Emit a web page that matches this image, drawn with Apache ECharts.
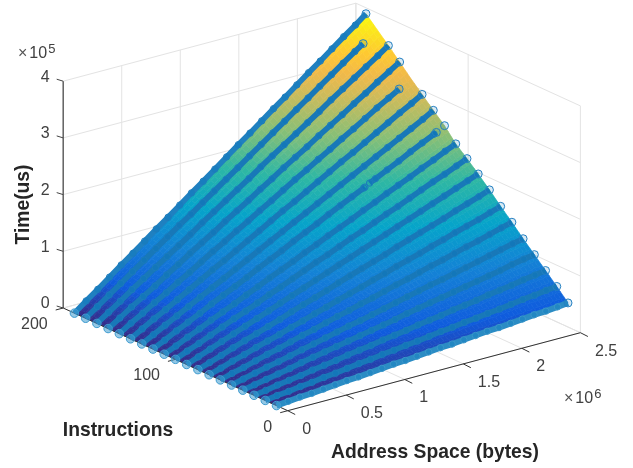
<!DOCTYPE html>
<html><head><meta charset="utf-8">
<style>html,body{margin:0;padding:0;background:#fff}#c{width:633px;height:468px;filter:blur(0.45px)}</style>
<script src="https://cdn.jsdelivr.net/npm/echarts@6/dist/echarts.min.js"></script>
</head><body><div id="c"></div>
<script>
// ---- data (address in 1e6 bytes, time in 1e5 us) ----
const addressTicks = [0, 0.5, 1, 1.5, 2, 2.5];
const addressTickLabels = ['0', '0.5', '1', '1.5', '2', '2.5'];
const instructionTicks = [0, 100, 200];
const instructionTickLabels = ['0', '100', '200'];
const timeTicks = [0, 1, 2, 3, 4];
const timeTickLabels = ['0', '1', '2', '3', '4'];
const instructionLines = [10,20,30,40,50,60,70,80,90,100,110,120,130,140,150,160,170,180,190];
const addressSamples = [0,.1,.2,.3,.4,.5,.6,.7,.8,.9,1,1.1,1.2,1.3,1.4,1.5,1.6,1.7,1.8,1.9,2,2.1,2.2,2.3,2.4,2.49];
const time10  = [0,.02,.04,.05,.07,.09,.11,.12,.14,.16,.18,.19,.21,.23,.25,.26,.28,.30,.32,.33,.35,.37,.39,.40,.42,.44];
const time20  = [0,.03,.05,.08,.10,.13,.15,.18,.21,.23,.26,.28,.31,.33,.36,.39,.41,.44,.46,.49,.51,.54,.57,.59,.62,.64];
const time30  = [0,.03,.07,.10,.13,.17,.20,.23,.27,.30,.33,.37,.40,.43,.47,.50,.53,.57,.60,.63,.67,.70,.73,.77,.80,.83];
const time40  = [0,.04,.08,.12,.16,.21,.25,.29,.33,.37,.41,.45,.49,.53,.58,.62,.66,.70,.74,.78,.82,.86,.90,.95,.99,1.02];
const time50  = [0,.05,.10,.15,.19,.24,.29,.34,.39,.44,.49,.53,.58,.63,.68,.73,.78,.83,.87,.92,.97,1.02,1.07,1.12,1.17,1.21];
const time60  = [0,.06,.11,.17,.23,.28,.34,.40,.45,.51,.57,.62,.68,.73,.79,.85,.90,.96,1.02,1.07,1.13,1.19,1.24,1.30,1.36,1.41];
const time70  = [0,.06,.13,.19,.26,.32,.38,.45,.51,.58,.64,.71,.77,.83,.90,.96,1.03,1.09,1.15,1.22,1.28,1.35,1.41,1.47,1.54,1.60];
const time80  = [0,.07,.14,.22,.29,.36,.43,.50,.58,.65,.72,.79,.87,.94,1.01,1.08,1.15,1.23,1.30,1.37,1.44,1.51,1.59,1.66,1.73,1.80];
const time90  = [0,.08,.16,.24,.32,.40,.48,.56,.64,.72,.80,.88,.96,1.04,1.12,1.20,1.28,1.36,1.44,1.52,1.60,1.68,1.76,1.84,1.92,1.99];
const time100 = [0,.09,.17,.26,.35,.44,.52,.61,.70,.78,.87,.96,1.05,1.13,1.22,1.31,1.39,1.48,1.57,1.65,1.74,1.83,1.92,2.00,2.09,2.17];
const time110 = [0,.09,.19,.28,.38,.47,.56,.66,.75,.85,.94,1.03,1.13,1.22,1.32,1.41,1.50,1.60,1.69,1.79,1.88,1.97,2.07,2.16,2.26,2.34];
const time120 = [0,.10,.21,.31,.41,.52,.62,.72,.82,.93,1.03,1.13,1.24,1.34,1.44,1.55,1.65,1.75,1.85,1.96,2.06,2.16,2.27,2.37,2.47,2.57];
const time130 = [0,.11,.22,.33,.44,.55,.66,.77,.88,.99,1.10,1.21,1.32,1.43,1.54,1.65,1.76,1.87,1.98,2.09,2.20,2.31,2.42,2.53,2.64,2.75];
const time140 = [0,.12,.24,.35,.47,.59,.71,.83,.94,1.06,1.18,1.30,1.42,1.54,1.65,1.77,1.89,2.01,2.13,2.24,2.36,2.48,2.60,2.72,2.83,2.94];
const time150 = [0,.13,.25,.38,.50,.63,.75,.88,1.01,1.13,1.26,1.38,1.51,1.63,1.76,1.89,2.01,2.14,2.26,2.39,2.51,2.64,2.77,2.89,3.02,3.13];
const time160 = [0,.13,.27,.40,.53,.67,.80,.94,1.07,1.20,1.34,1.47,1.60,1.74,1.87,2.01,2.14,2.27,2.41,2.54,2.67,2.81,2.94,3.08,3.21,3.33];
const time170 = [0,.14,.28,.43,.57,.71,.85,.99,1.13,1.28,1.42,1.56,1.70,1.84,1.99,2.13,2.27,2.41,2.55,2.69,2.84,2.98,3.12,3.26,3.40,3.53];
const time180 = [0,.15,.30,.45,.60,.75,.90,1.05,1.20,1.34,1.49,1.64,1.79,1.94,2.09,2.24,2.39,2.54,2.69,2.84,2.99,3.14,3.29,3.44,3.59,3.72];
const time190 = [0,.16,.31,.47,.63,.78,.94,1.10,1.25,1.41,1.57,1.72,1.88,2.04,2.20,2.35,2.51,2.67,2.82,2.98,3.14,3.29,3.45,3.61,3.76,3.91];
const timeRows = [time10,time20,time30,time40,time50,time60,time70,time80,time90,time100,time110,time120,time130,time140,time150,time160,time170,time180,time190];
// runs of markers that stop short of the last sample: instructions -> [address, time] of last marker of the run
const runEnds = {180:[2.37,3.54], 150:[2.39,3.00], 120:[2.42,2.49]};
// a lone marker beyond the run
const loneMarkers = {120:[2.49,2.57]};
// small holes in a run: instructions -> [addrBefore, timeBefore, addrAfter, timeAfter]
const runHoles = {120:[1.81,1.86,1.85,1.91]};

// ---- parula colour scale ----
const parulaPos = [0,.11,.238,.365,.492,.619,.746,.81,.873,1];
const parulaRGB = [[.2081,.1663,.5292],[.0591,.3598,.8683],[.0779,.504,.8384],[.0231,.6418,.7913],[.1801,.7177,.6424],[.53,.7491,.4661],[.8185,.7327,.3498],[.945,.7261,.2886],[.9955,.7861,.1967],[.9763,.9831,.0538]];
const timeMax = 3.91;
function parula(t){
  const v = Math.max(0, Math.min(1, t / timeMax));
  let k = 0; while (k < parulaPos.length - 2 && v > parulaPos[k + 1]) k++;
  const f = (v - parulaPos[k]) / (parulaPos[k + 1] - parulaPos[k]);
  const c = parulaRGB[k].map((u, j) => Math.round(255 * (u + f * (parulaRGB[k + 1][j] - u))));
  return 'rgb(' + c.join(',') + ')';
}

// ---- orthographic view of the MATLAB axes box ----
function project(a, i, t){
  return [287.7 + 117.08 * a - 1.1225 * i, 410.7 - 31.2 * a - 0.5135 * i - 56.7 * t];
}
const fullAddr = addressTicks[addressTicks.length - 1];
const fullInstr = instructionTicks[instructionTicks.length - 1];
const fullTime = timeTicks[timeTicks.length - 1];

// grid segments: [a1,i1,t1,a2,i2,t2]
const gridSegments = [];
timeTicks.forEach(t => {
  gridSegments.push([0, fullInstr, t, fullAddr, fullInstr, t]);
  gridSegments.push([fullAddr, fullInstr, t, fullAddr, 0, t]);
});
addressTicks.forEach(a => {
  gridSegments.push([a, fullInstr, 0, a, fullInstr, fullTime]);
  gridSegments.push([a, 0, 0, a, fullInstr, 0]);
});
instructionTicks.forEach(i => {
  gridSegments.push([fullAddr, i, 0, fullAddr, i, fullTime]);
  gridSegments.push([0, i, 0, fullAddr, i, 0]);
});

// surface cells
const surfaceCells = [];
for (let r = 0; r < instructionLines.length - 1; r++)
  for (let c = 0; c < addressSamples.length - 1; c++) surfaceCells.push([r, c]);

const SUB_I = 3, SUB_A = 3;
function renderSurface(params, api){
  const r = api.value(0), c = api.value(1);
  const i0 = instructionLines[r], i1 = instructionLines[r + 1];
  const a0 = addressSamples[c], a1 = addressSamples[c + 1];
  const t00 = timeRows[r][c], t01 = timeRows[r][c + 1], t10 = timeRows[r + 1][c], t11 = timeRows[r + 1][c + 1];
  const at = (u, v) => {
    const t = (1 - u) * ((1 - v) * t00 + v * t01) + u * ((1 - v) * t10 + v * t11);
    return { t, p: api.coord(project(a0 + v * (a1 - a0), i0 + u * (i1 - i0), t)) };
  };
  const children = [];
  for (let m = 0; m < SUB_I; m++) for (let n = 0; n < SUB_A; n++) {
    const A = at(m / SUB_I, n / SUB_A), B = at(m / SUB_I, (n + 1) / SUB_A),
          C = at((m + 1) / SUB_I, (n + 1) / SUB_A), D = at((m + 1) / SUB_I, n / SUB_A);
    const col = parula((A.t + B.t + C.t + D.t) / 4);
    children.push({ type: 'polygon', shape: { points: [A.p, B.p, C.p, D.p] }, style: { fill: col, stroke: col, lineWidth: 0.7 }, silent: true });
  }
  return { type: 'group', children };
}
function renderSegments(color, width){
  return (params, api) => {
    const p = api.coord(project(api.value(0), api.value(1), api.value(2)));
    const q = api.coord(project(api.value(3), api.value(4), api.value(5)));
    return { type: 'line', shape: { x1: p[0], y1: p[1], x2: q[0], y2: q[1] }, style: { stroke: color, lineWidth: width }, silent: true };
  };
}
// axes: line + outward tick for each axis
const axisData = [];
axisData.push({ from: [0, fullInstr, 0], to: [0, fullInstr, fullTime], color: '#5a5a5a', w: 1.4 });
axisData.push({ from: [0, 0, 0], to: [0, fullInstr, 0], color: '#333', w: 1 });
axisData.push({ from: [0, 0, 0], to: [fullAddr, 0, 0], color: '#333', w: 1 });
timeTicks.forEach(t => axisData.push({ from: [0, fullInstr, t], off: [-6.5, -2], color: '#444', w: 1 }));
instructionTicks.forEach(i => axisData.push({ from: [0, i, 0], off: [-7.5, 2], color: '#333', w: 1 }));
addressTicks.forEach(a => axisData.push({ from: [a, 0, 0], off: [7.5, 3.8], color: '#333', w: 1 }));
function renderAxis(params, api){
  const d = axisData[params.dataIndex];
  const p0 = project(d.from[0], d.from[1], d.from[2]);
  const p1 = d.to ? project(d.to[0], d.to[1], d.to[2]) : [p0[0] + d.off[0], p0[1] + d.off[1]];
  const p = api.coord(p0), q = api.coord(p1);
  return { type: 'line', shape: { x1: p[0], y1: p[1], x2: q[0], y2: q[1] }, style: { stroke: d.color, lineWidth: d.w }, silent: true };
}
// tick labels
const labelData = [];
timeTicks.forEach((t, k) => labelData.push({ at: [0, fullInstr, t], off: [-13.5, -4], text: timeTickLabels[k], align: 'right' }));
instructionTicks.forEach((i, k) => labelData.push({ at: [0, i, 0], off: [-15.5, 16.5], text: instructionTickLabels[k], align: 'right' }));
addressTicks.forEach((a, k) => labelData.push({ at: [a, 0, 0], off: [14.5, 18.5], text: addressTickLabels[k], align: 'left' }));
function renderLabel(params, api){
  const d = labelData[params.dataIndex];
  const p0 = project(d.at[0], d.at[1], d.at[2]);
  const p = api.coord([p0[0] + d.off[0], p0[1] + d.off[1]]);
  return { type: 'text', x: p[0], y: p[1], style: { text: d.text, fontFamily: 'Liberation Sans', fontSize: 16, fill: '#404040', align: d.align, verticalAlign: 'middle' }, silent: true };
}

const series = [
  { type: 'custom', coordinateSystem: 'cartesian2d', renderItem: renderSegments('#e3e3e3', 1), data: gridSegments, z: 1, silent: true, clip: false, animation: false },
  { type: 'custom', coordinateSystem: 'cartesian2d', renderItem: renderSurface, data: surfaceCells, z: 2, silent: true, clip: false, animation: false },
  { type: 'custom', coordinateSystem: 'cartesian2d', renderItem: renderAxis, data: axisData.map((d, k) => [k]), z: 3, silent: true, clip: false, animation: false },
  { type: 'custom', coordinateSystem: 'cartesian2d', renderItem: renderLabel, data: labelData.map((d, k) => [k]), z: 6, silent: true, clip: false, animation: false }
];
const endMarker = (p, base) => ({
  value: p, symbolSize: base ? 8.5 : 8,
  itemStyle: { color: base ? 'rgba(60,155,208,0.55)' : 'rgba(0,114,189,0.15)', borderColor: base ? '#3d9bd0' : '#2480c2', borderWidth: 1 }
});
instructionLines.forEach((instr, r) => {
  const data = [];
  const end = runEnds[instr];
  const hole = runHoles[instr];
  addressSamples.forEach((a, c) => {
    if (end && a >= end[0]) return;
    if (hole && a > hole[0] && a < hole[2]) return;
    if (hole && a >= hole[2] && data.hole !== true) {
      data.push(project(hole[0], instr, hole[1]), [null, null], project(hole[2], instr, hole[3]));
      data.hole = true;
    }
    data.push(c === 0 ? endMarker(project(a, instr, timeRows[r][c]), true) : project(a, instr, timeRows[r][c]));
  });
  if (end) {
    data.push(endMarker(project(end[0], instr, end[1]), false));
    const lone = loneMarkers[instr];
    if (lone) { data.push([null, null]); data.push(endMarker(project(lone[0], instr, lone[1]), false)); data.push([null, null]); }
  } else {
    data[data.length - 1] = endMarker(data[data.length - 1], false);
  }
  const edge = instr === instructionLines[0];
  const top = instr === instructionLines[instructionLines.length - 1];
  series.push({
    type: 'line', z: 4, silent: true, clip: false, animation: false,
    data, symbol: 'circle', symbolSize: 6.4, showSymbol: true, connectNulls: false,
    lineStyle: { color: edge ? '#2b8cc4' : (top ? '#1f80c0' : '#1878b8'), width: edge ? 6 : 5.6 },
    itemStyle: { color: 'rgba(0,114,189,0.2)', borderColor: edge ? '#3a96ca' : '#1c7cbc', borderWidth: 1 }
  });
});

const txt = { fontFamily: 'Liberation Sans', fontWeight: 'bold', fontSize: 19.3, fill: '#262626', align: 'center', verticalAlign: 'middle' };
const expRich = {
  x: { fontFamily: 'Liberation Sans', fontSize: 16, fill: '#555', padding: [0, 2, 0, 0] },
  b: { fontFamily: 'Liberation Sans', fontSize: 16, fill: '#404040' },
  s: { fontFamily: 'Liberation Sans', fontSize: 13, fill: '#404040', padding: [0, 0, 9, 1] }
};
const chart = echarts.init(document.getElementById('c'), null, { renderer: 'canvas' });
chart.setOption({
  animation: false,
  backgroundColor: '#fff',
  grid: { left: 0, right: 0, top: 0, bottom: 0 },
  xAxis: { type: 'value', min: 0, max: 633, show: false },
  yAxis: { type: 'value', min: 0, max: 468, inverse: true, show: false },
  tooltip: { show: false },
  graphic: [
    { type: 'text', x: 118, y: 431, z: 10, style: Object.assign({ text: 'Instructions' }, txt) },
    { type: 'text', x: 435, y: 453, z: 10, style: Object.assign({ text: 'Address Space (bytes)' }, txt) },
    { type: 'text', x: 24, y: 204.5, rotation: Math.PI / 2, z: 10, style: Object.assign({ text: 'Time(us)' }, txt) },
    { type: 'text', x: 18, y: 54, z: 10, style: { text: '{x|×}{b|10}{s|5}', verticalAlign: 'middle', rich: expRich } },
    { type: 'text', x: 564, y: 399, z: 10, style: { text: '{x|×}{b|10}{s|6}', verticalAlign: 'middle', rich: expRich } }
  ],
  series
});
</script></body></html>
